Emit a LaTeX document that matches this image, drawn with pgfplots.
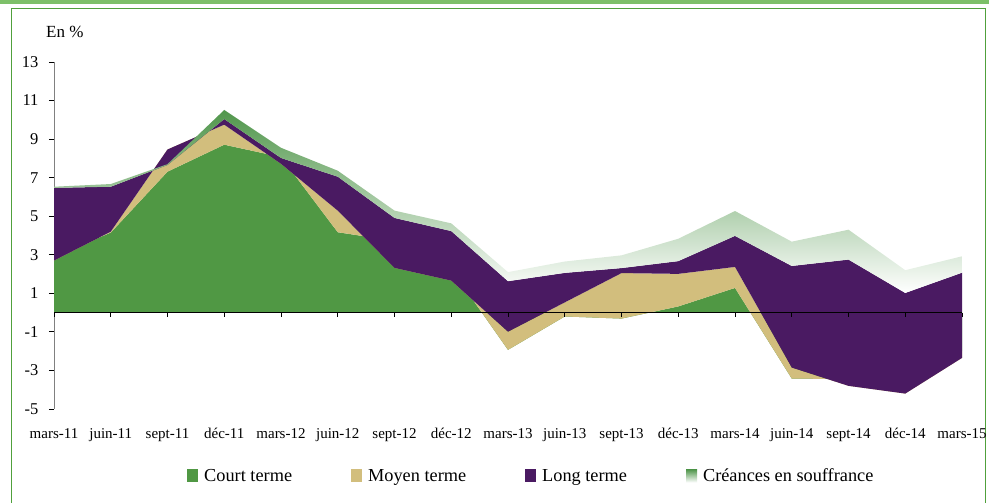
\documentclass[border=0pt]{standalone}
\usepackage{pgfplots}
\usepackage{pgfplotstable}
\pgfplotsset{compat=1.18}
\usepackage{fontspec}
\setmainfont{Liberation Serif}
\definecolor{cgreen}{RGB}{80,152,68}
\definecolor{ctan}{RGB}{210,190,125}
\definecolor{cpurple}{RGB}{74,26,98}
\definecolor{cshadetop}{RGB}{80,150,75}
\definecolor{cshademid}{RGB}{205,218,205}
\definecolor{cframe}{RGB}{80,160,60}
\definecolor{cframebar}{RGB}{125,192,105}
\pgfplotstableread{
x s1 s2 s3 s4
0 2.90 -0.20 3.77 0.06
1 4.15 0.05 2.33 0.14
2 7.31 1.15 -0.80 0.04
3 8.71 1.04 0.29 0.47
4 8.07 -0.35 0.30 0.53
5 4.17 1.12 1.76 0.31
6 3.72 -1.40 2.59 0.38
7 2.26 -0.60 2.57 0.40
8 -1.93 0.94 2.62 0.47
9 -0.20 0.73 1.53 0.59
10 -0.31 2.36 0.26 0.66
11 0.32 1.69 0.66 1.16
12 1.28 1.09 1.61 1.29
13 -3.42 0.57 5.27 1.26
14 -3.45 -0.35 6.55 1.55
15 -3.90 -0.30 5.22 1.18
16 -2.00 -0.35 4.42 0.85
}\data
\begin{document}
\begin{tikzpicture}[x=1pt,y=1pt]
\useasboundingbox (0,0) rectangle (989,503);
\fill[cframebar] (0,499) rectangle (989,503);
\draw[cframe, line width=1.2pt] (11.5,-5) -- (11.5,494.5) -- (985.5,494.5) -- (985.5,-5);
\node[anchor=base west, inner sep=0pt, font=\fontsize{17}{20}\selectfont] at (46pt,465pt) {En \%};
\begin{axis}[
  scale only axis, width=908pt, height=347pt,
  at={(54pt,94pt)}, anchor=south west,
  xmin=0, xmax=16, ymin=-5, ymax=13,
  stack plots=y, reverse stacked plots=false,
  axis y line*=left, axis x line*=bottom,
  x axis line style={draw=none},
  y axis line style={draw={rgb,255:red,128;green,128;blue,128}, line width=0.9pt},
  xtick={0,...,16},
  xticklabels={mars-11, juin-11, sept-11, déc-11, mars-12, juin-12, sept-12, déc-12, mars-13, juin-13, sept-13, déc-13, mars-14, juin-14, sept-14, déc-14, mars-15},
  ytick={-5,-3,...,13},
  tick align=outside,
  major tick length=5pt,
  xtick style={draw=none},
  ytick style={draw=black, line width=0.8pt},
  /pgf/number format/assume math mode=true,
  xticklabel style={font=\fontsize{15}{18}\selectfont, text height=10.5pt, text depth=3pt, yshift=-10pt},
  yticklabel style={font=\fontsize{16.5}{19}\selectfont, xshift=-7pt},
  legend style={draw=none, fill=none, at={(0.1465,-0.193)}, anchor=west, legend columns=4,
    font=\fontsize{18.3}{22}\selectfont, inner sep=0pt,
    /tikz/every odd column/.append style={column sep=4pt},
    /tikz/every even column/.append style={column sep=57pt}},
  legend image code/.code={\path[#1, draw=none] (0pt,-6.5pt) rectangle (11pt,6.5pt);},
]
\addplot[draw=none, fill=cgreen] table[x=x, y=s1] {\data} \closedcycle;
\addlegendentry{Court terme}
\addplot[draw=none, fill=ctan] table[x=x, y=s2] {\data} \closedcycle;
\addlegendentry{Moyen terme}
\addplot[draw=none, fill=cpurple] table[x=x, y=s3] {\data} \closedcycle;
\addlegendentry{Long terme}
\addplot[draw=none, top color=cshadetop, middle color=cshademid, bottom color=white] table[x=x, y=s4] {\data} \closedcycle;
\addlegendentry{Créances en souffrance}
\end{axis}
\begin{axis}[
  scale only axis, width=908pt, height=347pt,
  at={(54pt,94pt)}, anchor=south west,
  xmin=0, xmax=16, ymin=-5, ymax=13,
  axis x line*=middle, axis y line=none,
  xtick={0,...,16}, xticklabels={}, ytick=\empty,
  tick align=center, major tick length=4pt,
  hide obscured x ticks=false,
  x axis line style={black, line width=0.9pt},
  xtick style={black, line width=0.9pt, yshift=-2pt},
]
\end{axis}
\end{tikzpicture}
\end{document}
